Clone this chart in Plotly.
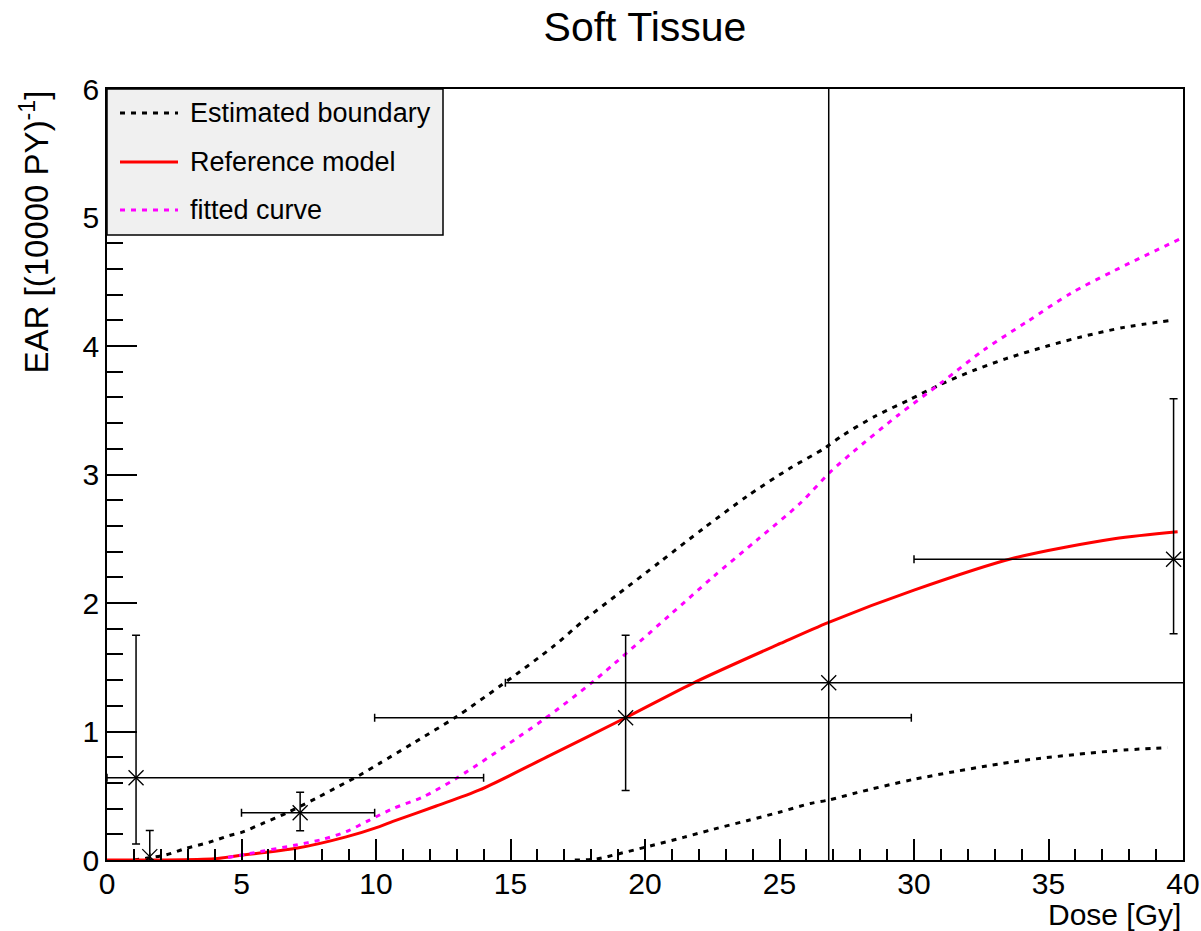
import plotly.graph_objects as go

# ---- measured EAR points (Dose [Gy], EAR) with asymmetric errors ----
pt_dose = [1.08, 1.59, 7.18, 19.28, 26.83, 39.65]
pt_ear = [0.64, 0.026, 0.368, 1.107, 1.38, 2.34]
pt_dose_lo = [0.0, 1.59, 5.0, 9.95, 14.81, 30.0]
pt_dose_hi = [14.0, 1.59, 9.95, 29.9, 45.0, 41.0]
pt_ear_lo = [0.125, 0.0, 0.228, 0.54, -5.0, 1.76]
pt_ear_hi = [1.75, 0.23, 0.527, 1.75, 12.0, 3.59]

# ---- estimated boundary, upper branch ----
upper_dose = [1.0, 1.5, 2.2, 2.93, 3.8, 4.54, 5.0, 5.79, 6.65, 7.77, 8.64, 9.39,
              10.13, 11.37, 12.99, 14.72, 16.58, 17.7, 18.94, 20.56, 22.17, 23.79,
              25.4, 26.64, 27.39, 28.57, 29.81, 30.98, 32.22, 33.4, 34.96, 36.2,
              37.81, 39.49]
upper_ear = [0.0, 0.015, 0.04, 0.09, 0.138, 0.19, 0.215, 0.285, 0.363, 0.48, 0.576, 0.66,
             0.752, 0.908, 1.115, 1.37, 1.66, 1.86, 2.06, 2.32, 2.58, 2.83,
             3.05, 3.20, 3.31, 3.455, 3.58, 3.70, 3.81, 3.90, 4.00, 4.07,
             4.145, 4.197]

# ---- estimated boundary, lower branch ----
lower_dose = [17.39, 18.2, 19.0, 20.19, 21.43, 22.54, 23.79, 24.96, 26.15, 26.83,
              27.88, 30.0, 33.72, 37.44, 39.43]
lower_ear = [0.0, 0.008, 0.047, 0.109, 0.176, 0.239, 0.306, 0.37, 0.44, 0.467,
             0.524, 0.628, 0.765, 0.85, 0.874]

# ---- reference model ----
ref_dose = [0.0, 2.0, 4.0, 4.92, 7.03, 8.89, 10.13, 10.63, 12.24, 13.85, 16.34,
            19.28, 21.92, 25.03, 26.83, 30.0, 33.72, 37.44, 39.8]
ref_ear = [0.0, 0.0, 0.01, 0.035, 0.091, 0.18, 0.26, 0.30, 0.42, 0.545, 0.80,
           1.107, 1.39, 1.685, 1.85, 2.10, 2.35, 2.50, 2.555]

# ---- fitted curve ----
fit_dose = [4.5, 5.29, 7.03, 8.02, 8.89, 9.76, 10.63, 11.74, 12.99, 16.21, 18.08,
            20.93, 22.54, 24.16, 25.77, 26.89, 27.76, 29.37, 30.99, 32.6, 34.21,
            35.83, 37.44, 39.86]
fit_ear = [0.02, 0.05, 0.117, 0.161, 0.22, 0.311, 0.40, 0.49, 0.636, 1.09, 1.39,
           1.907, 2.205, 2.49, 2.776, 3.02, 3.18, 3.455, 3.71, 3.97, 4.19,
           4.41, 4.586, 4.83]

legend_labels = ["Estimated boundary", "Reference model", "fitted curve"]
legend_colors = ["black", "red", "magenta"]
legend_dashes = ["dot", "solid", "dot"]

FONT = "Liberation Sans, Arial, Helvetica, sans-serif"
W, H = 1201, 931
ML, MR, MT, MB = 107, 18, 89, 71
PW, PH = W - ML - MR, H - MT - MB
DASH = "5px,6px"


def px_x(p):
    return (p - ML) / PW


def px_y(p):
    return (H - MB - p) / PH


def curve(xs, ys, color, dashed):
    return go.Scatter(x=xs, y=ys, mode="lines",
                      line=dict(color=color, width=3, shape="spline",
                                smoothing=0.8,
                                dash=DASH if dashed else "solid"),
                      showlegend=False)


fig = go.Figure()
fig.add_trace(curve(upper_dose, upper_ear, "black", True))
fig.add_trace(curve(lower_dose, lower_ear, "black", True))
fig.add_trace(curve(ref_dose, ref_ear, "red", False))
fig.add_trace(curve(fit_dose, fit_ear, "magenta", True))

fig.add_trace(go.Scatter(
    x=pt_dose, y=pt_ear, mode="markers",
    marker=dict(symbol="x-thin", size=15, color="black",
                line=dict(color="black", width=1.3)),
    error_x=dict(type="data", symmetric=False,
                 array=[h - x for h, x in zip(pt_dose_hi, pt_dose)],
                 arrayminus=[x - l for l, x in zip(pt_dose_lo, pt_dose)],
                 color="black", thickness=1.5, width=4),
    error_y=dict(type="data", symmetric=False,
                 array=[h - y for h, y in zip(pt_ear_hi, pt_ear)],
                 arrayminus=[y - l for l, y in zip(pt_ear_lo, pt_ear)],
                 color="black", thickness=1.5, width=4),
    showlegend=False))

# legend box
shapes = [dict(type="rect", xref="paper", yref="paper",
               x0=px_x(107), x1=px_x(443), y0=px_y(235), y1=px_y(89),
               fillcolor="#f0f0f0", line=dict(color="black", width=1.5),
               layer="above")]
annotations = []
row_y = [113, 162, 210]
for lab, col, dsh, ry in zip(legend_labels, legend_colors, legend_dashes, row_y):
    shapes.append(dict(type="line", xref="paper", yref="paper",
                       x0=px_x(120), x1=px_x(178), y0=px_y(ry), y1=px_y(ry),
                       line=dict(color=col, width=3,
                                 dash=DASH if dsh == "dot" else "solid"),
                       layer="above"))
    annotations.append(dict(text=lab, xref="paper", yref="paper",
                            x=px_x(188), y=px_y(ry), xanchor="left",
                            yanchor="middle", showarrow=False,
                            font=dict(family=FONT, size=27, color="black")))

annotations.append(dict(text="Dose [Gy]", xref="paper", yref="paper",
                        x=1.0, y=px_y(914), xanchor="right", yanchor="middle",
                        showarrow=False,
                        font=dict(family=FONT, size=30, color="black")))
annotations.append(dict(text="EAR [(10000 PY)<sup>-1</sup>]", xref="paper",
                        yref="paper", x=px_x(34), y=1.0, xanchor="center",
                        yanchor="top", textangle=-90, showarrow=False,
                        font=dict(family=FONT, size=33, color="black")))

fig.update_layout(
    template="none",
    width=W, height=H,
    margin=dict(l=ML, r=MR, t=MT, b=MB, autoexpand=False),
    paper_bgcolor="white", plot_bgcolor="white",
    font=dict(family=FONT, size=30, color="black"),
    title=dict(text="Soft Tissue", x=0.5, xref="paper", xanchor="center",
               y=1 - 27 / H, yref="container", yanchor="middle",
               font=dict(family=FONT, size=41, color="black")),
    shapes=shapes,
    annotations=annotations,
    showlegend=False,
)

fig.update_xaxes(range=[0, 40], tickmode="array", automargin=False,
                 tickvals=[0, 5, 10, 15, 20, 25, 30, 35, 40],
                 ticks="inside", ticklen=21, tickwidth=1.5, tickcolor="black",
                 ticklabelstandoff=-4,
                 minor=dict(dtick=1, ticks="inside", ticklen=11, tickwidth=1.5,
                            tickcolor="black", showgrid=False),
                 showgrid=False, zeroline=False, showline=True,
                 linecolor="black", linewidth=1.5, mirror=True,
                 tickfont=dict(family=FONT, size=30, color="black"))
fig.update_yaxes(range=[0, 6], tickmode="array", automargin=False,
                 tickvals=[0, 1, 2, 3, 4, 5, 6],
                 ticks="inside", ticklen=30, tickwidth=1.5, tickcolor="black",
                 minor=dict(dtick=0.2, ticks="inside", ticklen=16, tickwidth=1.5,
                            tickcolor="black", showgrid=False),
                 showgrid=False, zeroline=False, showline=True,
                 linecolor="black", linewidth=1.5, mirror=True,
                 tickfont=dict(family=FONT, size=30, color="black"))

fig.write_html("out.html")
